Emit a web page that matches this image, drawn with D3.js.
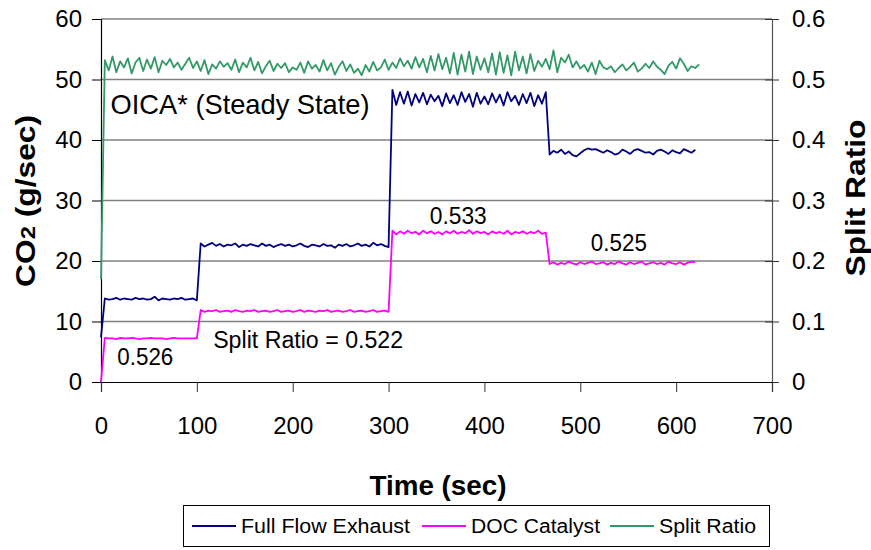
<!DOCTYPE html>
<html>
<head>
<meta charset="utf-8">
<script src="https://cdn.jsdelivr.net/npm/d3@7"></script>
<style>
  body { margin: 0; background: #fff; }
  svg { font-family: "Liberation Sans", Arial, sans-serif; display: block; }
</style>
</head>
<body>
<svg width="871" height="550"></svg>
<script>
// samples every 4 sec, starting at t = 0
var step = 4;

var xTicks = [0, 100, 200, 300, 400, 500, 600, 700];
var co2Ticks = [0, 10, 20, 30, 40, 50, 60];
var ratioTicks = [0, 0.1, 0.2, 0.3, 0.4, 0.5, 0.6];

// Full Flow Exhaust CO2 (g/sec)
var fullFlow = [7.4,
    13.8, 13.6, 13.7, 13.9, 13.6, 13.8, 13.7, 13.6, 13.9, 13.7, 13.8, 13.6, 13.7, 14.1, 13.5, 13.8, 13.7, 13.6, 13.8, 13.7, 13.9, 13.6, 13.7, 13.8, 13.5,
    22.9, 22.4, 22.7, 23.0, 22.5, 22.8, 22.4, 22.7, 22.6, 22.9, 22.3, 22.7, 22.5, 22.8, 22.6, 22.4, 22.9, 22.5, 22.7, 22.3, 22.6, 22.8, 22.5, 22.7, 22.4,
    22.6, 22.9, 22.5, 22.3, 22.7, 22.6, 22.4, 22.8, 22.5, 22.6, 22.2, 22.7, 22.5, 22.8, 22.4, 22.6, 22.9, 22.5, 22.7, 22.4, 23.0, 22.6, 22.8, 22.5, 22.3,
    48.3, 45.8, 47.9, 46.0, 48.0, 45.7, 47.6, 46.2, 47.8, 45.9, 47.5, 46.4, 47.3, 45.6, 47.7, 46.1, 47.4, 45.8, 47.9, 46.3, 47.6,
    45.5, 47.8, 46.0, 47.2, 45.9, 47.7, 46.2, 47.5, 45.7, 47.9, 46.4, 47.3, 45.8, 47.6, 46.1, 47.8, 45.6, 47.4, 46.0, 47.9,
    37.6, 38.2, 37.9, 38.4, 37.7, 38.1, 37.5, 37.3, 37.8, 38.3, 38.6, 38.4, 38.5, 38.2, 37.9, 38.3, 38.0, 37.6, 37.8, 38.4,
    38.1, 37.7, 38.3, 38.5, 38.2, 37.9, 38.0, 37.6, 38.2, 38.4, 38.1, 37.7, 38.3, 38.0, 37.8, 38.5, 38.2, 37.9, 38.4];

// DOC Catalyst CO2 (g/sec)
var docCatalyst = [0,
    7.3, 7.2, 7.2, 7.1, 7.3, 7.2, 7.2, 7.3, 7.2, 7.1, 7.2, 7.2, 7.3, 7.2, 7.2, 7.2, 7.1, 7.2, 7.3, 7.2, 7.2, 7.2, 7.2, 7.2, 7.2,
    11.9, 11.6, 11.8, 11.7, 11.9, 11.6, 11.7, 11.8, 11.6, 11.9, 11.7, 11.6, 11.8, 11.7, 11.9, 11.6, 11.7, 11.8, 11.6, 11.7, 11.9, 11.6, 11.7, 11.8, 11.6,
    11.7, 11.9, 11.6, 11.8, 11.7, 11.6, 11.8, 11.7, 11.9, 11.6, 11.7, 11.8, 11.6, 11.7, 11.9, 11.6, 11.7, 11.8, 11.6, 11.7, 11.9, 11.6, 11.7, 11.8, 11.6,
    25.0, 24.4, 24.9, 24.5, 25.0, 24.6, 24.8, 24.4, 25.0, 24.6, 24.9, 24.5, 24.8, 24.4, 24.9, 24.6, 25.0, 24.5, 24.8, 24.6, 25.1,
    24.5, 24.9, 24.6, 24.8, 24.4, 24.9, 24.6, 24.8, 24.5, 25.0, 24.4, 24.8, 24.6, 24.9, 24.5, 24.8, 24.6, 25.0, 24.5, 24.7,
    19.5, 19.8, 19.4, 19.7, 19.5, 19.9, 19.6, 19.4, 19.8, 19.5, 19.7, 19.9, 19.5, 19.6, 19.8, 19.4, 19.7, 19.5, 19.9, 19.6,
    19.4, 19.8, 19.5, 19.7, 19.9, 19.4, 19.6, 19.8, 19.5, 19.7, 19.4, 19.9, 19.6, 19.5, 19.8, 19.4, 19.7, 19.9, 19.8];

// Split Ratio (right axis)
var splitRatio = [0.17,
    0.532, 0.515, 0.538, 0.512, 0.530, 0.520, 0.535, 0.510, 0.528, 0.536, 0.514, 0.533, 0.518, 0.537, 0.512, 0.531, 0.524, 0.534, 0.520, 0.528, 0.516, 0.526, 0.536, 0.519, 0.530,
    0.514, 0.532, 0.509, 0.525, 0.518, 0.530, 0.521, 0.527, 0.516, 0.533, 0.512, 0.528, 0.520, 0.536, 0.515, 0.529, 0.510, 0.522, 0.531, 0.514, 0.526, 0.519, 0.527, 0.512, 0.520,
    0.516, 0.528, 0.511, 0.530, 0.518, 0.524, 0.513, 0.532, 0.515, 0.527, 0.508, 0.521, 0.530, 0.514, 0.525, 0.511, 0.518, 0.507, 0.524, 0.513, 0.529, 0.515, 0.520, 0.533, 0.516,
    0.528, 0.519, 0.535, 0.522, 0.531, 0.518, 0.537, 0.520, 0.534, 0.512, 0.539, 0.515, 0.542, 0.517, 0.536, 0.510, 0.544, 0.508, 0.541, 0.513, 0.546, 0.509, 0.538, 0.516, 0.535,
    0.512, 0.543, 0.508, 0.545, 0.511, 0.540, 0.507, 0.546, 0.515, 0.538, 0.510, 0.542, 0.514, 0.531, 0.521, 0.534, 0.517, 0.548, 0.512, 0.536, 0.528, 0.541, 0.520, 0.530, 0.518,
    0.524, 0.513, 0.528, 0.509, 0.531, 0.520, 0.517, 0.522, 0.512, 0.519, 0.525, 0.515, 0.521, 0.528, 0.513, 0.518, 0.526, 0.519, 0.530, 0.521, 0.516, 0.509, 0.523, 0.529, 0.518,
    0.535, 0.526, 0.514, 0.522, 0.519, 0.525];

var seriesNames = ["Full Flow Exhaust", "DOC Catalyst", "Split Ratio"];
var seriesColors = ["#000080", "#ff00ff", "#339966"];

// annotations: [text, time, co2]
var notes = [
    ["OICA* (Steady State)", 10, 44.3],
    ["0.526", 17, 2.8],
    ["Split Ratio = 0.522", 117, 5.6],
    ["0.533", 343, 26.1],
    ["0.525", 511, 21.6]
];

var svg = d3.select("svg");
var x = d3.scaleLinear().domain([0, 700]).range([101, 772]);
var yL = d3.scaleLinear().domain([0, 60]).range([382, 19]);
var yR = d3.scaleLinear().domain([0, 0.6]).range([382, 19]);

// gridlines
svg.append("g").selectAll("line")
    .data(co2Ticks.filter(function(d) { return d > 0; }))
    .enter().append("line")
    .attr("x1", 101).attr("x2", 772)
    .attr("y1", function(d) { return yL(d); })
    .attr("y2", function(d) { return yL(d); })
    .attr("stroke", "#808080")
    .attr("stroke-width", 1.5);

// left axis
var gL = svg.append("g").attr("transform", "translate(101,0)")
    .call(d3.axisLeft(yL).tickValues(co2Ticks).tickSize(9).tickPadding(10));
// right axis
var gR = svg.append("g").attr("transform", "translate(772,0)")
    .call(d3.axisRight(yR).tickValues(ratioTicks).tickSize(7).tickPadding(13)
        .tickFormat(function(d) { return d === 0 ? "0" : d3.format(".1f")(d); }));
gR.selectAll(".tick line").attr("x1", -7);
// bottom axis
var gB = svg.append("g").attr("transform", "translate(0,382)")
    .call(d3.axisBottom(x).tickValues(xTicks).tickSize(10).tickPadding(25));

[gL, gR, gB].forEach(function(g) {
    g.selectAll("text").attr("font-size", 24).attr("fill", "#000")
        .attr("font-family", "Liberation Sans, Arial, sans-serif");
    g.selectAll("line").attr("stroke", "#000");
    g.select(".domain").attr("stroke", "#000").attr("stroke-width", 1.2);
});
gR.select(".domain").attr("stroke", "#555");
gR.selectAll(".tick line").attr("stroke", "#333");
gB.selectAll(".tick line").attr("stroke", "#333");

// series lines
function drawSeries(values, yScale, color) {
    var line = d3.line()
        .x(function(d, i) { return x(i * step); })
        .y(function(d) { return yScale(d); });
    svg.append("path")
        .attr("d", line(values))
        .attr("fill", "none")
        .attr("stroke", color)
        .attr("stroke-width", 1.8)
        .attr("stroke-linejoin", "round");
}
drawSeries(splitRatio, yR, seriesColors[2]);
drawSeries(docCatalyst, yL, seriesColors[1]);
drawSeries(fullFlow, yL, seriesColors[0]);

// text notes
svg.append("g").selectAll("text")
    .data(notes).enter().append("text")
    .attr("x", function(d) { return x(d[1]); })
    .attr("y", function(d) { return yL(d[2]); })
    .attr("font-size", function(d, i) { return i === 0 ? 28 : 23; })
    .attr("textLength", function(d, i) { return [259, 56, 190, 57, 56][i]; })
    .attr("lengthAdjust", "spacingAndGlyphs")
    .text(function(d) { return d[0]; });

// axis titles
var tl = svg.append("text")
    .attr("transform", "translate(35,201) rotate(-90)")
    .attr("text-anchor", "middle")
    .attr("font-size", 28).attr("font-weight", "bold")
    .attr("textLength", 172).attr("lengthAdjust", "spacingAndGlyphs");
tl.append("tspan").text("CO");
tl.append("tspan").attr("font-size", 21).text("2");
tl.append("tspan").text(" (g/sec)");

svg.append("text")
    .attr("transform", "translate(865,198) rotate(-90)")
    .attr("text-anchor", "middle")
    .attr("font-size", 28).attr("font-weight", "bold")
    .attr("textLength", 157).attr("lengthAdjust", "spacingAndGlyphs")
    .text("Split Ratio");

svg.append("text")
    .attr("x", 438).attr("y", 495)
    .attr("text-anchor", "middle")
    .attr("font-size", 28).attr("font-weight", "bold")
    .attr("textLength", 137).attr("lengthAdjust", "spacingAndGlyphs")
    .text("Time (sec)");

// legend
var legend = svg.append("g");
legend.append("rect")
    .attr("x", 183.5).attr("y", 505.5).attr("width", 586).attr("height", 41)
    .attr("fill", "#fff").attr("stroke", "#000").attr("stroke-width", 1);
var legX = [192, 422, 610];
var legW = [169, 129, 97];
seriesNames.forEach(function(name, i) {
    legend.append("line")
        .attr("x1", legX[i]).attr("x2", legX[i] + 44)
        .attr("y1", 526).attr("y2", 526)
        .attr("stroke", seriesColors[i]).attr("stroke-width", 2);
    legend.append("text")
        .attr("x", legX[i] + 49).attr("y", 533)
        .attr("font-size", 20)
        .attr("textLength", legW[i]).attr("lengthAdjust", "spacingAndGlyphs")
        .text(name);
});
</script>
</body>
</html>
